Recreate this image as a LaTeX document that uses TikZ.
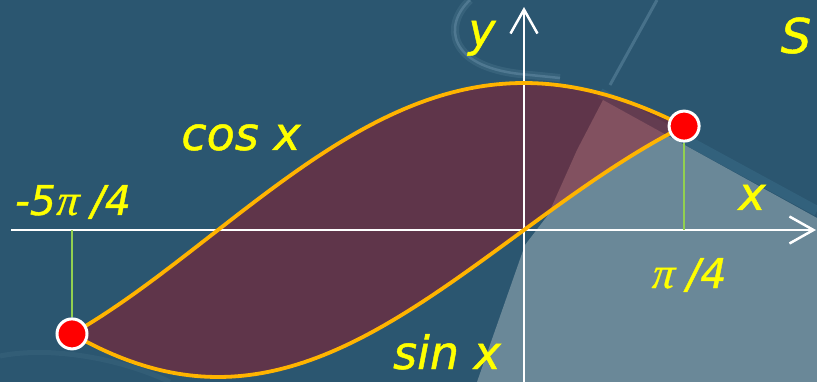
\documentclass[tikz,border=0pt]{standalone}
\usepackage{fontspec}
\usetikzlibrary{arrows.meta}
\newfontfamily\labfont[FakeBold=1]{DejaVu Sans}
\newfontfamily\pifont[FakeSlant=0.1,FakeBold=0.6]{Liberation Serif}
\definecolor{bgdark}{RGB}{43,86,112}
\definecolor{bglight}{RGB}{106,136,152}
\definecolor{bgmid}{RGB}{58,108,136}
\definecolor{swoosh}{RGB}{115,155,178}
\definecolor{areafill}{RGB}{160,15,28}
\definecolor{curveorange}{RGB}{255,180,0}
\definecolor{dropgreen}{RGB}{146,208,80}
\definecolor{labyellow}{RGB}{255,255,0}
\begin{document}
\begin{tikzpicture}[x=1pt,y=-1pt,
  axis/.style={draw=white,line width=2.5pt,-{Straight Barb[length=24pt,width=27pt]}},
  curve/.style={draw=curveorange,line width=3.8pt,line join=round,line cap=round},
  drop/.style={draw=dropgreen,line width=2pt},
  dot/.style={circle,fill=red,draw=white,line width=3pt,minimum size=30pt,inner sep=0pt},
  lab/.style={text=labyellow,font=\labfont\itshape\fontsize{46}{50}\selectfont,inner sep=0pt,anchor=base},
  numlab/.style={text=labyellow,font=\labfont\itshape\fontsize{41}{45}\selectfont,inner sep=0pt,anchor=base},
]
\useasboundingbox (0,0) rectangle (817,382);
% background
\fill[bgdark] (0,0) rectangle (817,382);
\draw[bgmid,line width=10pt,opacity=0.5] (600,93) -- (817,211);
\fill[bglight] (603,100) -- (817,218) -- (817,382) -- (477,382) -- (525,245) -- (548,215) -- (577,150) -- cycle;
\draw[swoosh,line width=3pt,opacity=0.4] (657,0) -- (610,85);
\draw[swoosh,line width=8pt,opacity=0.18] (470,0) .. controls (443,25) and (448,66) .. (520,74) -- (560,78);
\draw[swoosh,line width=2.5pt,opacity=0.4] (470,0) .. controls (443,25) and (448,66) .. (520,74) -- (560,78);
\draw[swoosh,line width=5pt,opacity=0.1] (0,356) .. controls (50,346) and (120,358) .. (170,382);
% area between the curves
\fill[areafill,opacity=0.45]
  plot[domain=-2.35619:0.785398,samples=100,variable=\t] ({524+200.8*\t+3.81*\t*\t},{230-147*cos(\t r)})
  -- plot[domain=0.785398:-2.35619,samples=100,variable=\t] ({524+200.8*\t+3.81*\t*\t},{230-147*sin(\t r)})
  -- cycle;
% axes
\coordinate (xs) at (11,230);
\coordinate (xe) at (816,230);
\coordinate (ys) at (524,382);
\coordinate (ye) at (524,7);
\draw[axis] (xs) -- (xe);
\draw[axis] (ys) -- (ye);
% curves
\draw[curve] plot[domain=-2.35619:0.785398,samples=100,variable=\t] ({524+200.8*\t+3.81*\t*\t},{230-147*cos(\t r)});
\draw[curve] plot[domain=-2.35619:0.785398,samples=100,variable=\t] ({524+200.8*\t+3.81*\t*\t},{230-147*sin(\t r)});
% drop lines and points
\coordinate (fL) at (72,230);
\coordinate (fR) at (684.1,230);
\node[dot] (pL) at (72,333.9) {};
\node[dot] (pR) at (684.1,126.1) {};
\draw[drop] (pL) -- (fL);
\draw[drop] (pR) -- (fR);
% labels
\node[lab] (ylab) at (482,46) {y};
\node[lab,font=\labfont\itshape\fontsize{48}{52}\selectfont] (slab) at (796,53) {S};
\node[lab] (coslab) at (241,150) {cos x};
\node[lab] (sinlab) at (447,369) {sin x};
\node[lab] (xlab) at (752,210) {x};
\node[numlab] (lm) at (73,215) {-5{\pifont\fontsize{44}{48}\selectfont π} /4};
\node[numlab] (rm) at (689,288) {{\pifont\fontsize{44}{48}\selectfont π} /4};
\end{tikzpicture}
\end{document}
